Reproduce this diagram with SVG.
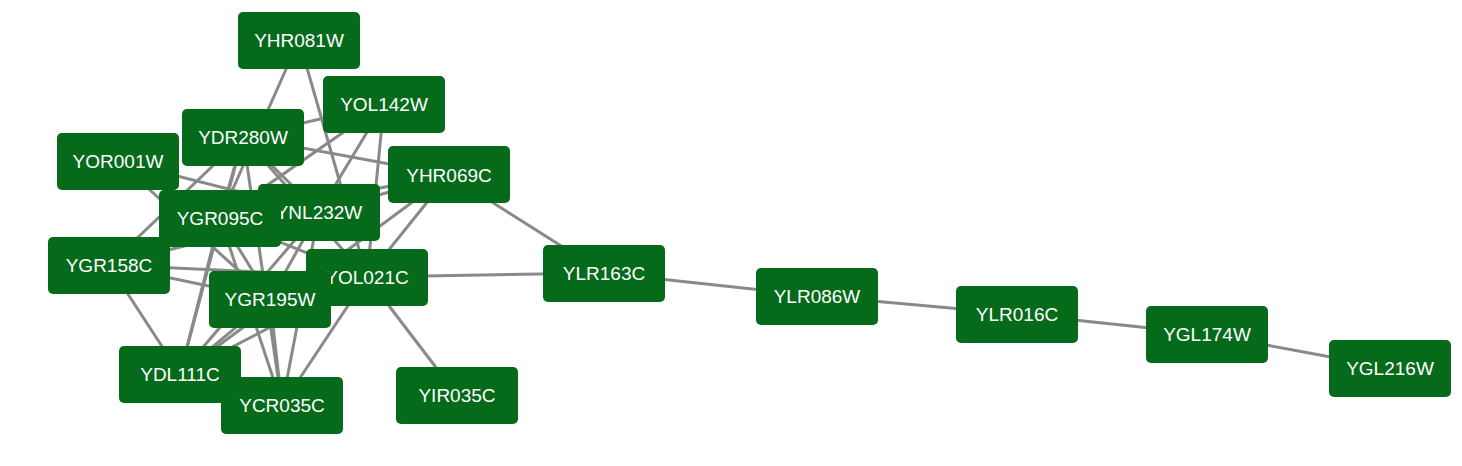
<svg xmlns="http://www.w3.org/2000/svg" width="1462" height="466" viewBox="0 0 1462 466">
<style>
.e{stroke:#898989;stroke-width:3;fill:none}
.n rect{fill:#066a1b}
.n text{fill:#fff;font-family:"Liberation Sans",Arial,sans-serif;font-size:19px;text-anchor:middle}
</style>
<rect width="1462" height="466" fill="#fff"/>
<g id="edges">
<line class="e" x1="299" y1="40" x2="220" y2="218"/>
<line class="e" x1="299" y1="40" x2="367" y2="277"/>
<line class="e" x1="384" y1="104" x2="243" y2="137"/>
<line class="e" x1="384" y1="104" x2="220" y2="218"/>
<line class="e" x1="384" y1="104" x2="319" y2="212"/>
<line class="e" x1="384" y1="104" x2="367" y2="277"/>
<line class="e" x1="243" y1="137" x2="449" y2="175"/>
<line class="e" x1="243" y1="137" x2="109" y2="265"/>
<line class="e" x1="243" y1="137" x2="220" y2="218"/>
<line class="e" x1="243" y1="137" x2="180" y2="374"/>
<line class="e" x1="243" y1="137" x2="282" y2="405"/>
<line class="e" x1="243" y1="137" x2="319" y2="212"/>
<line class="e" x1="243" y1="137" x2="367" y2="277"/>
<line class="e" x1="118" y1="161" x2="270" y2="299"/>
<line class="e" x1="118" y1="161" x2="319" y2="212"/>
<line class="e" x1="118" y1="161" x2="220" y2="218"/>
<line class="e" x1="449" y1="175" x2="319" y2="212"/>
<line class="e" x1="449" y1="175" x2="220" y2="218"/>
<line class="e" x1="449" y1="175" x2="367" y2="277"/>
<line class="e" x1="449" y1="175" x2="180" y2="374"/>
<line class="e" x1="319" y1="212" x2="109" y2="265"/>
<line class="e" x1="319" y1="212" x2="282" y2="405"/>
<line class="e" x1="319" y1="212" x2="270" y2="299"/>
<line class="e" x1="319" y1="212" x2="180" y2="374"/>
<line class="e" x1="220" y1="218" x2="367" y2="277"/>
<line class="e" x1="220" y1="218" x2="270" y2="299"/>
<line class="e" x1="220" y1="218" x2="180" y2="374"/>
<line class="e" x1="220" y1="218" x2="282" y2="405"/>
<line class="e" x1="109" y1="265" x2="367" y2="277"/>
<line class="e" x1="109" y1="265" x2="270" y2="299"/>
<line class="e" x1="109" y1="265" x2="180" y2="374"/>
<line class="e" x1="367" y1="277" x2="270" y2="299"/>
<line class="e" x1="367" y1="277" x2="180" y2="374"/>
<line class="e" x1="367" y1="277" x2="282" y2="405"/>
<line class="e" x1="367" y1="277" x2="457" y2="395"/>
<line class="e" x1="367" y1="277" x2="604" y2="273"/>
<line class="e" x1="270" y1="299" x2="180" y2="374"/>
<line class="e" x1="270" y1="299" x2="282" y2="405"/>
<line class="e" x1="180" y1="374" x2="282" y2="405"/>
<line class="e" x1="449" y1="175" x2="604" y2="273"/>
<line class="e" x1="604" y1="273" x2="817" y2="296"/>
<line class="e" x1="817" y1="296" x2="1017" y2="314"/>
<line class="e" x1="1017" y1="314" x2="1207" y2="334"/>
<line class="e" x1="1207" y1="334" x2="1390" y2="368"/>
</g>
<g id="YHR081W" class="n"><rect x="238" y="12" width="122" height="57" rx="5"/><text x="299" y="47">YHR081W</text></g>
<g id="YOL142W" class="n"><rect x="323" y="76" width="122" height="57" rx="5"/><text x="384" y="111">YOL142W</text></g>
<g id="YDR280W" class="n"><rect x="182" y="109" width="122" height="57" rx="5"/><text x="243" y="144">YDR280W</text></g>
<g id="YOR001W" class="n"><rect x="57" y="133" width="122" height="57" rx="5"/><text x="118" y="168">YOR001W</text></g>
<g id="YHR069C" class="n"><rect x="388" y="146" width="122" height="57" rx="5"/><text x="449" y="182">YHR069C</text></g>
<g id="YNL232W" class="n"><rect x="258" y="184" width="122" height="57" rx="5"/><text x="319" y="219">YNL232W</text></g>
<g id="YGR158C" class="n"><rect x="48" y="237" width="122" height="57" rx="5"/><text x="109" y="272">YGR158C</text></g>
<g id="YGR095C" class="n"><rect x="159" y="190" width="122" height="57" rx="5"/><text x="220" y="225">YGR095C</text></g>
<g id="YOL021C" class="n"><rect x="306" y="249" width="122" height="57" rx="5"/><text x="367" y="284">YOL021C</text></g>
<g id="YGR195W" class="n"><rect x="209" y="271" width="122" height="57" rx="5"/><text x="270" y="306">YGR195W</text></g>
<g id="YDL111C" class="n"><rect x="119" y="346" width="122" height="57" rx="5"/><text x="180" y="381">YDL111C</text></g>
<g id="YCR035C" class="n"><rect x="221" y="377" width="122" height="57" rx="5"/><text x="282" y="412">YCR035C</text></g>
<g id="YIR035C" class="n"><rect x="396" y="367" width="122" height="57" rx="5"/><text x="457" y="402">YIR035C</text></g>
<g id="YLR163C" class="n"><rect x="543" y="245" width="122" height="57" rx="5"/><text x="604" y="280">YLR163C</text></g>
<g id="YLR086W" class="n"><rect x="756" y="268" width="122" height="57" rx="5"/><text x="817" y="303">YLR086W</text></g>
<g id="YLR016C" class="n"><rect x="956" y="286" width="122" height="57" rx="5"/><text x="1017" y="321">YLR016C</text></g>
<g id="YGL174W" class="n"><rect x="1146" y="306" width="122" height="57" rx="5"/><text x="1207" y="341">YGL174W</text></g>
<g id="YGL216W" class="n"><rect x="1329" y="340" width="122" height="57" rx="5"/><text x="1390" y="375">YGL216W</text></g>
</svg>
